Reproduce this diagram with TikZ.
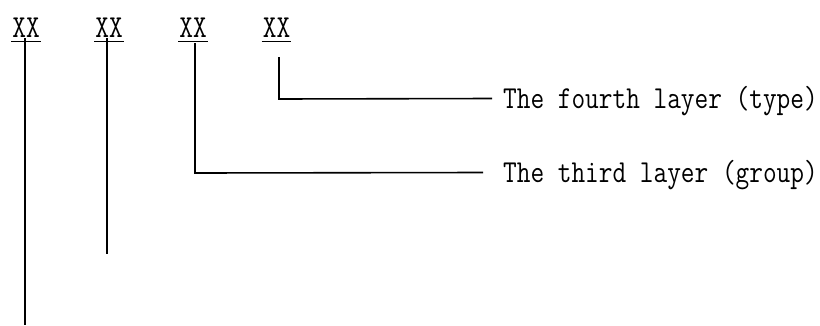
\documentclass[tikz,border=0pt]{standalone}
\usepackage{fontspec}
\newfontfamily\labelmono[FakeStretch=0.83]{Latin Modern Mono}
\begin{document}
\begin{tikzpicture}[x=1pt,y=-1pt,
  lbl/.style={font=\labelmono\fontsize{32}{35}\selectfont, inner sep=0pt, text height=19pt, text depth=0pt},
  ln/.style={line width=1.6pt, black}]
\useasboundingbox (0,0) rectangle (820,325);
% codes
\node[lbl, anchor=base] (xx1) at (26,37) {XX};
\node[lbl, anchor=base] (xx2) at (109,37) {XX};
\node[lbl, anchor=base] (xx3) at (193,37) {XX};
\node[lbl, anchor=base] (xx4) at (276.5,37) {XX};
\foreach \n in {xx1,xx2,xx3,xx4}{
  \draw[line width=1.3pt] ([xshift=-1pt,yshift=-4pt]\n.south west) -- ([xshift=1pt,yshift=-4pt]\n.south east);
}
% labels
\node[lbl, anchor=base west] (l4) at (503,108) {The fourth layer (type)};
\node[lbl, anchor=base west] (l3) at (503,182) {The third layer (group)};
% connector coordinates
\coordinate (e1) at (25,325);
\coordinate (e2) at (107,254);
\coordinate (c3) at (195,173);
\coordinate (c4) at (279,99);
\draw[ln] ([xshift=-1pt,yshift=-1pt]xx1.south) -- (e1);
\draw[ln] ([xshift=-2pt,yshift=-1pt]xx2.south) -- (e2);
\draw[ln] ([xshift=2pt,yshift=-6pt]xx3.south) -- (c3) -- ([xshift=-20pt]l3.west);
\draw[ln] ([xshift=2.5pt,yshift=-20pt]xx4.south) -- (c4) -- ([xshift=-11pt]l4.west);
\end{tikzpicture}
\end{document}
